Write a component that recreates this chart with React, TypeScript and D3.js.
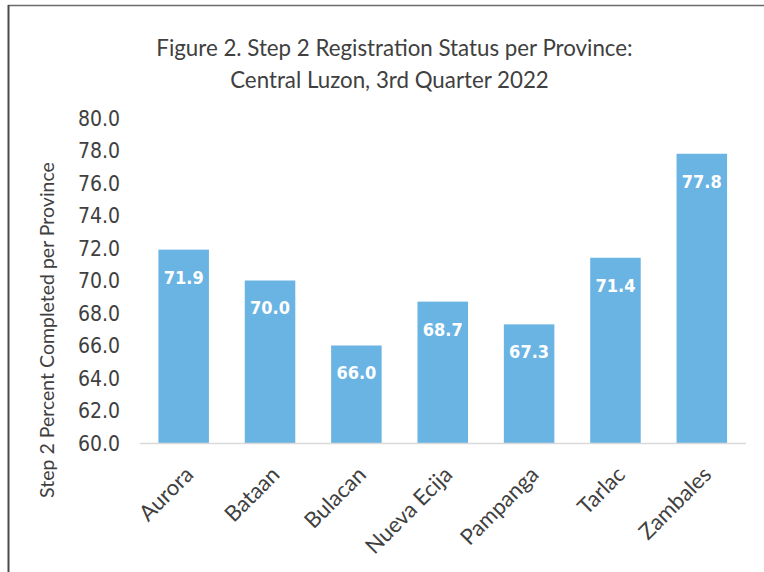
import React from "react";
import * as d3 from "d3";

const provinces = ["Aurora", "Bataan", "Bulacan", "Nueva Ecija", "Pampanga", "Tarlac", "Zambales"];
const values = [71.9, 70.0, 66.0, 68.7, 67.3, 71.4, 77.8];
const yTicks = [60, 62, 64, 66, 68, 70, 72, 74, 76, 78, 80];
const titleLines = ["Figure 2. Step 2 Registration Status per Province:", "Central Luzon, 3rd Quarter 2022"];
const yTitle = "Step 2 Percent Completed per Province";

const W = 764;
const H = 572;
const BAR = "#6ab4e4";
const TXT = "#404040";
const HUMANIST = "Lato, 'Open Sans', sans-serif";
const NUMFONT = "'DejaVu Sans Condensed', 'DejaVu Sans', sans-serif";

export default function App() {
  const x = d3.scaleBand<string>().domain(provinces).range([140.5, 745]).paddingInner(0.415).paddingOuter(0.2075);
  const y = d3.scaleLinear().domain([60, 80]).range([443, 118]);
  const fmt = d3.format(".1f");

  return (
    <svg width={W} height={H} style={{ position: "absolute", left: 0, top: 0, background: "#fff" }}>
      <rect x={0} y={0} width={W} height={H} fill="#fff" />
      {/* frame */}
      <line x1={8} y1={5.5} x2={W} y2={5.5} stroke="#6a6a6a" strokeWidth={1.5} />
      <line x1={8.5} y1={5} x2={8.5} y2={H} stroke="#4a4a4a" strokeWidth={2} />

      {/* title */}
      <text x={394.5} y={56} textAnchor="middle" fontFamily={HUMANIST} fontSize={22.3} fill={TXT}>
        {titleLines[0]}
      </text>
      <text x={389.5} y={88} textAnchor="middle" fontFamily={HUMANIST} fontSize={22.3} fill={TXT}>
        {titleLines[1]}
      </text>

      {/* y ticks */}
      {yTicks.map((t) => (
        <text key={t} x={120} y={y(t)} dy="0.36em" textAnchor="end" fontFamily={NUMFONT} fontSize={21} fill={TXT}>
          {fmt(t)}
        </text>
      ))}

      {/* y title */}
      <text
        transform={`translate(54, 330) rotate(-90)`}
        textAnchor="middle"
        fontFamily={HUMANIST}
        fontSize={19.5}
        fill={TXT}
      >
        {yTitle}
      </text>

      {/* bars */}
      {provinces.map((p, i) => (
        <rect key={p} x={x(p)} y={y(values[i])} width={x.bandwidth()} height={y(60) - y(values[i])} fill={BAR} />
      ))}

      {/* baseline */}
      <line x1={140} x2={746} y1={443.5} y2={443.5} stroke="#d9d9d9" strokeWidth={1.5} />

      {/* data labels */}
      {provinces.map((p, i) => (
        <text
          key={p}
          x={(x(p) as number) + x.bandwidth() / 2}
          y={y(values[i]) + 27.5}
          dy="0.36em"
          textAnchor="middle"
          fontFamily={NUMFONT}
          fontWeight="bold"
          fontSize={18}
          fill="#ffffff"
        >
          {fmt(values[i])}
        </text>
      ))}

      {/* x labels */}
      {provinces.map((p) => {
        const cx = (x(p) as number) + x.bandwidth() / 2;
        return (
          <text
            key={p}
            transform={`translate(${cx + 11}, 476) rotate(-45)`}
            textAnchor="end"
            fontFamily={HUMANIST}
            fontSize={22}
            fill={TXT}
          >
            {p}
          </text>
        );
      })}
    </svg>
  );
}
